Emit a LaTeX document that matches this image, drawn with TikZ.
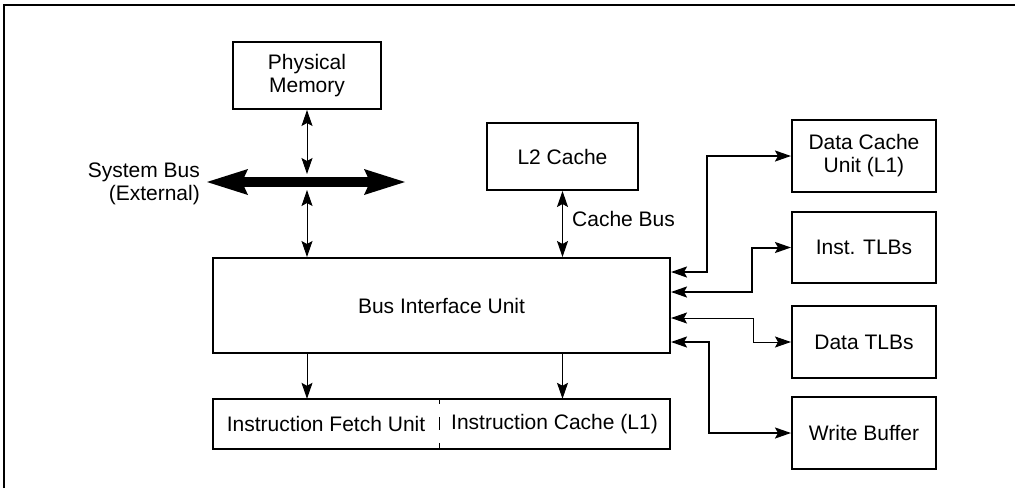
\documentclass[tikz,border=0pt]{standalone}
\usepackage{fontspec}
\setmainfont{Liberation Sans}
\usetikzlibrary{arrows.meta,calc}
\begin{document}
\begin{tikzpicture}[x=1pt,y=-1pt,
  lbl/.style={font=\fontsize{21}{23}\selectfont, align=center, inner sep=0pt},
  unit/.style={lbl, draw, line width=2pt, minimum width=#1},
  thinarr/.style={line width=1pt, {Stealth[length=16pt,width=11pt,inset=3pt]}-{Stealth[length=16pt,width=11pt,inset=3pt]}},
  thickarr/.style={line width=2pt, {Stealth[length=16pt,width=11pt,inset=3pt]}-{Stealth[length=16pt,width=11pt,inset=3pt]}},
  downarr/.style={line width=1pt, -{Stealth[length=16pt,width=11pt,inset=3pt]}}
]
\useasboundingbox (0,0) rectangle (1015,488);
% frame (top and left edges visible)
\draw[line width=2pt] (4,488) -- (4,5) -- (1015,5);

% nodes
\node[unit=148pt, minimum height=67pt] (pm) at (307,75.5) {Physical\\Memory};
\node[unit=151pt, minimum height=67pt] (l2) at (562.5,156.5) {L2 Cache};
\node[unit=457pt, minimum height=95pt] (biu) at (441.5,305.5) {Bus Interface Unit};
\node[lbl, minimum width=226pt, minimum height=50pt] (ifu) at (326,424) {Instruction Fetch Unit};
\node[lbl, minimum width=231pt, minimum height=50pt] (icu) at (554.5,424) {Instruction Cache (L1)};
\draw[line width=2pt] (ifu.north west) rectangle (icu.south east);
\draw[line width=0.7pt, dash pattern=on 13pt off 13pt, dash phase=8pt] (ifu.north east) -- (ifu.south east);

\node[unit=144pt, minimum height=72pt] (dcu) at (864,156) {Data Cache\\Unit (L1)};
\node[unit=144pt, minimum height=71pt] (itb) at (864,247.5) {Inst. TLBs};
\node[unit=144pt, minimum height=72pt] (dtb) at (864,342) {Data TLBs};
\node[unit=144pt, minimum height=72pt] (wb) at (864,433) {Write Buffer};

\node[lbl, align=right, anchor=east] (sblbl) at (200,184) {System Bus\\(External)};
\node[lbl, anchor=west] (cblbl) at (572,219) {Cache Bus};

% system bus
\coordinate (busW) at (207,182);
\coordinate (busE) at (405,182);
\coordinate (busN) at (307,174);
\coordinate (busS) at (307,190);
\draw[line width=10pt, {Stealth[length=41pt,width=26pt,inset=6pt,line width=0pt]}-{Stealth[length=41pt,width=26pt,inset=6pt,line width=0pt]}] (busW) -- (busE);

% vertical connectors
\draw[thinarr] (pm.south) -- (busN);
\draw[thinarr] (busS) -- (biu.north -| busS);
\draw[thinarr] (l2.south) -- (biu.north -| l2.south);
\draw[downarr] (biu.south -| busS) -- (ifu.north -| busS);
\draw[downarr] (biu.south -| l2.south) -- (icu.north -| l2.south);

% right-hand connectors
\draw[thickarr] (biu.east |- 0,272) -| (707,156) -- (dcu.west);
\draw[thickarr] (biu.east |- 0,292) -| (752,247.5) -- (itb.west);
\draw[thinarr] (biu.east |- 0,318) -| (753,342) -- (dtb.west);
\draw[thickarr] (biu.east |- 0,342) -| (709,433) -- (wb.west);
\end{tikzpicture}
\end{document}
